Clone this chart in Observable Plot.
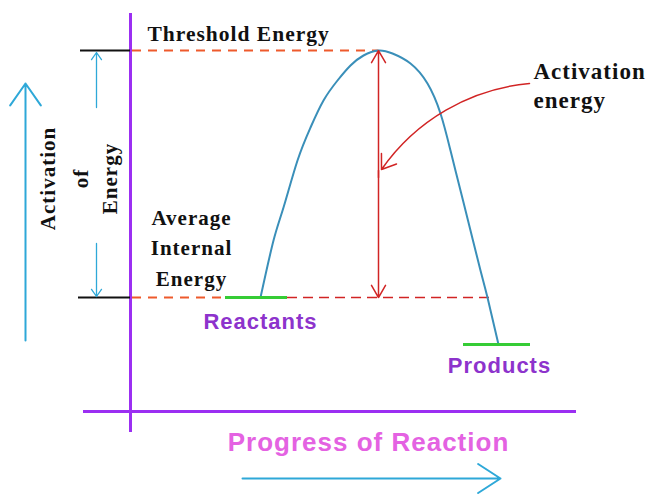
<!DOCTYPE html>
<html>
<head>
<meta charset="utf-8">
<script src="https://cdn.jsdelivr.net/npm/d3@7"></script>
<script src="https://cdn.jsdelivr.net/npm/@observablehq/plot@0.6"></script>
<style>
  html, body { margin: 0; padding: 0; background: #fff; }
</style>
</head>
<body>
<div id="chart"></div>
<script>
// ---- Data (x = progress of reaction, y = energy, arbitrary units) ----
const thresholdEnergy = 361;
const reactantEnergy = 114;
const productEnergy = 67;

const curveProgress = [260, 273, 283, 297, 310, 323, 337, 350, 363, 378, 392, 410, 427, 440, 450, 460, 470, 480, 487, 498];
const curveEnergy   = [114, 171, 204, 251, 284, 311, 331, 346, 356, 361, 358, 348, 328, 298, 261, 221, 181, 141, 114, 67];

const peakProgress = 378;
const reactantSpan = [225, 287];
const productSpan = [463, 530];

const yAxisProgress = 130;
const yAxisEnergySpan = [-21, 398];
const xAxisProgressSpan = [83, 576];

const serifLabels = ["Threshold Energy", "Activation\nenergy", "Average\nInternal\nEnergy"];
const serifLabelX = [147, 533, 191];
const serifLabelY = [371, 304, 126];

const sideLabels = ["Activation", "of", "Energy"];
const sideLabelX = [48, 81, 110];
const sideLabelY = 233;

const speciesLabels = ["Reactants", "Products"];
const speciesLabelX = [260, 499];
const speciesLabelY = [83, 39];

const axisTitle = "Progress of Reaction";

// ---- Styles ----
const purple = "#9b2ff2";
const blue = "#3a8fb9";
const lightBlue = "#2ea8d8";
const orange = "#ee5a2c";
const red = "#d12424";
const green = "#35cc35";
const serif = "'Liberation Serif', 'Times New Roman', serif";
const sans = "'Liberation Sans', Arial, sans-serif";

const curve = curveProgress.map((x, i) => ({x, y: curveEnergy[i]}));

const chart = Plot.plot({
  width: 657,
  height: 498,
  margin: 0,
  x: {domain: [0, 657], axis: null},
  y: {domain: [-87, 411], axis: null},
  style: {background: "#fff", letterSpacing: "1px"},
  marks: [
    // axes
    Plot.ruleX([yAxisProgress], {y1: yAxisEnergySpan[0], y2: yAxisEnergySpan[1], stroke: purple, strokeWidth: 3}),
    Plot.ruleY([0], {x1: xAxisProgressSpan[0], x2: xAxisProgressSpan[1], stroke: purple, strokeWidth: 3}),
    // black ticks
    Plot.ruleY([thresholdEnergy], {x1: 80, x2: yAxisProgress, stroke: "#111", strokeWidth: 2}),
    Plot.ruleY([reactantEnergy], {x1: 78, x2: yAxisProgress, stroke: "#111", strokeWidth: 2}),
    // dashed guides
    Plot.ruleY([thresholdEnergy], {x1: yAxisProgress + 2, x2: peakProgress, stroke: orange, strokeWidth: 2, strokeDasharray: "9,7"}),
    Plot.ruleY([reactantEnergy], {x1: yAxisProgress + 2, x2: reactantSpan[0], stroke: orange, strokeWidth: 2, strokeDasharray: "9,7"}),
    Plot.ruleY([reactantEnergy], {x1: reactantSpan[1], x2: 490, stroke: red, strokeWidth: 1.5, strokeDasharray: "10,6"}),
    // energy curve
    Plot.line(curve, {x: "x", y: "y", stroke: blue, strokeWidth: 2, curve: "natural"}),
    // reactant / product levels
    Plot.ruleY([reactantEnergy], {x1: reactantSpan[0], x2: reactantSpan[1], stroke: green, strokeWidth: 3}),
    Plot.ruleY([productEnergy], {x1: productSpan[0], x2: productSpan[1], stroke: green, strokeWidth: 3}),
    // activation energy double arrow
    Plot.arrow([0], {x1: peakProgress, x2: peakProgress, y1: reactantEnergy + 120, y2: thresholdEnergy, stroke: red, strokeWidth: 1.5, headLength: 14, headAngle: 60}),
    Plot.arrow([0], {x1: peakProgress, x2: peakProgress, y1: thresholdEnergy - 120, y2: reactantEnergy, stroke: red, strokeWidth: 1.5, headLength: 14, headAngle: 60}),
    // curved pointer
    Plot.arrow([0], {x1: 529, y1: 328, x2: 381, y2: 242, bend: -25, stroke: red, strokeWidth: 1.5, headLength: 16, headAngle: 70}),
    // left blue arrows
    Plot.arrow([0], {x1: 25, x2: 25, y1: 71, y2: 328, stroke: lightBlue, strokeWidth: 2, headLength: 20, headAngle: 70}),
    Plot.arrow([0], {x1: 96, x2: 96, y1: 304, y2: 359, stroke: lightBlue, strokeWidth: 1.3, headLength: 10, headAngle: 70}),
    Plot.arrow([0], {x1: 96, x2: 96, y1: 168, y2: 115, stroke: lightBlue, strokeWidth: 1.3, headLength: 10, headAngle: 70}),
    // bottom blue arrow
    Plot.arrow([0], {x1: 242, x2: 500, y1: -67, y2: -67, stroke: lightBlue, strokeWidth: 2, headLength: 20, headAngle: 66}),
    // serif labels
    Plot.text(serifLabels.slice(0, 1), {x: serifLabelX[0], y: serifLabelY[0], text: d => d, textAnchor: "start", lineAnchor: "bottom", fontFamily: serif, fontWeight: "bold", fontSize: 21.5, fill: "#111"}),
    Plot.text(serifLabels.slice(1, 2), {x: serifLabelX[1], y: serifLabelY[1], text: d => d, textAnchor: "start", lineAnchor: "bottom", lineHeight: 1.26, fontFamily: serif, fontWeight: "bold", fontSize: 23, fill: "#111"}),
    Plot.text(serifLabels.slice(2, 3), {x: serifLabelX[2], y: serifLabelY[2], text: d => d, textAnchor: "middle", lineAnchor: "bottom", lineHeight: 1.43, fontFamily: serif, fontWeight: "bold", fontSize: 21, fill: "#111"}),
    Plot.text(sideLabels, {x: (d, i) => sideLabelX[i], y: sideLabelY, text: d => d, rotate: -90, textAnchor: "middle", lineAnchor: "middle", fontFamily: serif, fontWeight: "bold", fontSize: 21, fill: "#111"}),
    // species labels
    Plot.text(speciesLabels, {x: (d, i) => speciesLabelX[i], y: (d, i) => speciesLabelY[i], text: d => d, textAnchor: "middle", lineAnchor: "bottom", fontFamily: sans, fontWeight: "bold", fontSize: 22, fill: "#8d33cc"}),
    // axis title
    Plot.text([axisTitle], {x: 368, y: -39, text: d => d, textAnchor: "middle", lineAnchor: "bottom", fontFamily: sans, fontWeight: "bold", fontSize: 26, fill: "#e462e2"})
  ]
});

document.getElementById("chart").append(chart);
</script>
</body>
</html>
